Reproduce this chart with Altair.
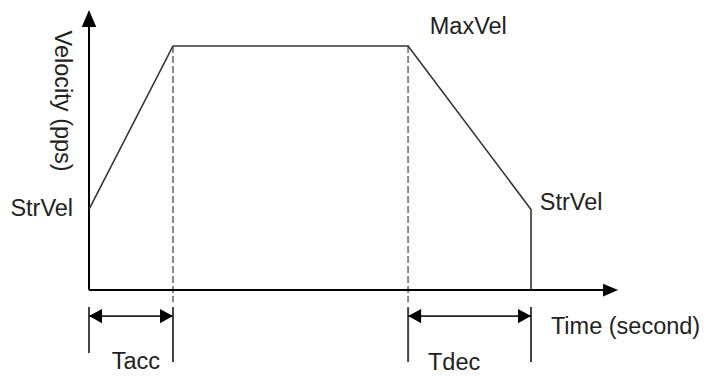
import altair as alt
import pandas as pd

# ---- data (time units, velocity units) ----
profile_t = [0.0, 1.9, 7.22, 10.0, 10.0]
profile_v = [33, 100, 100, 33, 0]

# axis lines (start -> end)
axis_t = [0.0, 0.0]
axis_v = [0.0, 0.0]
axis_t2 = [11.63, 0.0]
axis_v2 = [0.0, 107.8]

# dashed guide lines at Tacc end / Tdec start
guide_t = [1.9, 7.22]
guide_v_top = [100, 100]
guide_v_bottom = [-5, -5]

# bracket ticks below the time axis
tick_t = [0.0, 1.9, 7.22, 10.0]
tick_v_top = [-7, -7, -7, -7]
tick_v_bottom = [-25.8, -29.5, -29.5, -29.5]

# span arrows (Tacc, Tdec)
span_t = [0.0, 7.22]
span_t2 = [1.9, 10.0]
span_v = [-10.7, -10.7]

# axis arrow tips
up_tip_t = [0.0]
up_tip_v = [114.75]
right_tip_t = [11.97]
right_tip_v = [0.0]

# labels
left_labels = ["MaxVel", "StrVel", "Time (second)"]
left_t = [7.71, 10.2, 10.45]
left_v = [107.8, 35.7, -15.2]

right_labels = ["StrVel"]
right_t = [-0.36]
right_v = [33.2]

center_labels = ["Tacc", "Tdec"]
center_t = [1.06, 8.26]
center_v = [-29.5, -30.0]

ylabel = ["Velocity (pps)"]
ylabel_t = [-0.62]
ylabel_v = [77.4]

# ---- scales ----
xs = alt.Scale(domain=[0, 10], range=[81, 523], nice=False, zero=False)
ys = alt.Scale(domain=[0, 100], range=[282, 38], nice=False, zero=False)

def X(f="t"):
    return alt.X(f"{f}:Q", scale=xs, axis=None)

def Y(f="v"):
    return alt.Y(f"{f}:Q", scale=ys, axis=None)

FONT = "Liberation Sans"
FS = 23.5
TXT = "#222222"

axes = alt.Chart(pd.DataFrame({"t": axis_t, "v": axis_v, "t2": axis_t2, "v2": axis_v2})).mark_rule(
    color="#000000", strokeWidth=2
).encode(x=X(), y=Y(), x2="t2:Q", y2="v2:Q")

profile = alt.Chart(pd.DataFrame({"i": list(range(len(profile_t))), "t": profile_t, "v": profile_v})).mark_line(
    color="#333333", strokeWidth=1.6
).encode(x=X(), y=Y(), order=alt.Order("i:Q"))

guides = alt.Chart(pd.DataFrame({"t": guide_t, "v": guide_v_top, "v2": guide_v_bottom})).mark_rule(
    color="#8a8a8a", strokeWidth=2, strokeDash=[7, 3]
).encode(x=X(), y=Y(), y2="v2:Q")

ticks = alt.Chart(pd.DataFrame({"t": tick_t, "v": tick_v_top, "v2": tick_v_bottom})).mark_rule(
    color="#444444", strokeWidth=2
).encode(x=X(), y=Y(), y2="v2:Q")

spans = alt.Chart(pd.DataFrame({"t": span_t, "t2": span_t2, "v": span_v})).mark_rule(
    color="#222222", strokeWidth=1.6
).encode(x=X(), x2="t2:Q", y=Y())

head_left = alt.Chart(pd.DataFrame({"t": span_t, "v": span_v})).mark_point(
    shape="M0,0L2,-1.1L2,1.1Z", size=169, filled=True, opacity=1, color="#000000", strokeWidth=0
).encode(x=X(), y=Y())

head_right = alt.Chart(pd.DataFrame({"t": span_t2, "v": span_v})).mark_point(
    shape="M0,0L-2,-1.1L-2,1.1Z", size=169, filled=True, opacity=1, color="#000000", strokeWidth=0
).encode(x=X(), y=Y())

up_arrow = alt.Chart(pd.DataFrame({"t": up_tip_t, "v": up_tip_v})).mark_point(
    shape="M0,0L0.85,2L-0.85,2Z", size=289, filled=True, opacity=1, color="#000000", strokeWidth=0
).encode(x=X(), y=Y())

right_arrow = alt.Chart(pd.DataFrame({"t": right_tip_t, "v": right_tip_v})).mark_point(
    shape="M0,0L-2,-0.85L-2,0.85Z", size=225, filled=True, opacity=1, color="#000000", strokeWidth=0
).encode(x=X(), y=Y())

txt_left = alt.Chart(pd.DataFrame({"label": left_labels, "t": left_t, "v": left_v})).mark_text(
    align="left", baseline="middle", font=FONT, fontSize=FS, color=TXT
).encode(x=X(), y=Y(), text="label:N")

txt_right = alt.Chart(pd.DataFrame({"label": right_labels, "t": right_t, "v": right_v})).mark_text(
    align="right", baseline="middle", font=FONT, fontSize=FS, color=TXT
).encode(x=X(), y=Y(), text="label:N")

txt_center = alt.Chart(pd.DataFrame({"label": center_labels, "t": center_t, "v": center_v})).mark_text(
    align="center", baseline="middle", font=FONT, fontSize=FS, color=TXT
).encode(x=X(), y=Y(), text="label:N")

txt_y = alt.Chart(pd.DataFrame({"label": ylabel, "t": ylabel_t, "v": ylabel_v})).mark_text(
    align="center", baseline="middle", font=FONT, fontSize=FS, color=TXT, angle=90
).encode(x=X(), y=Y(), text="label:N")

chart = alt.layer(
    guides, axes, profile, ticks, spans, head_left, head_right, up_arrow, right_arrow,
    txt_left, txt_right, txt_center, txt_y
).properties(
    width=694, height=367, autosize=alt.AutoSizeParams(type="none"), padding=0, background="white"
).configure_view(stroke=None)

chart.save("out.html", embed_options={"renderer": "svg", "actions": False})
